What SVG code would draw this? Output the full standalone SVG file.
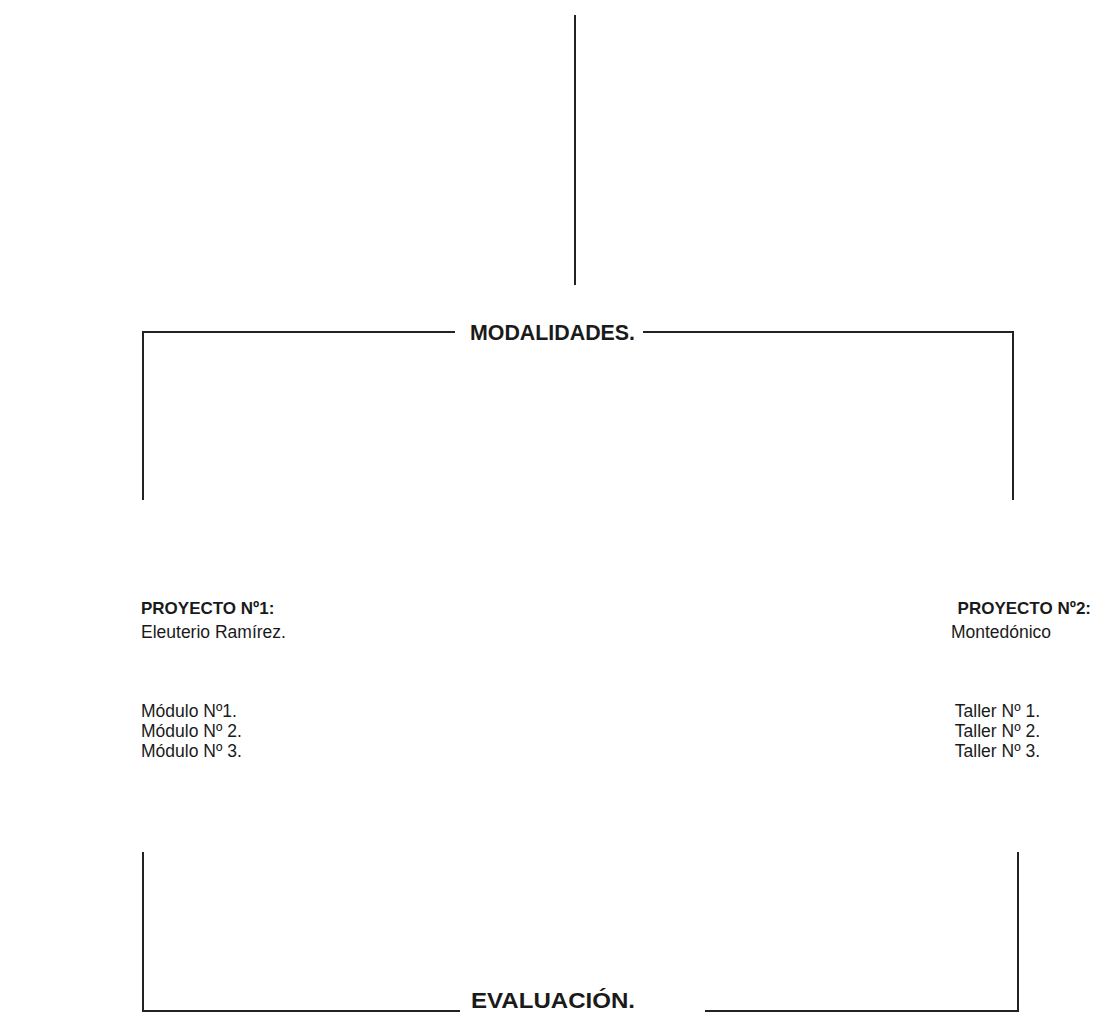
<svg xmlns="http://www.w3.org/2000/svg" width="1109" height="1016" viewBox="0 0 1109 1016">
<style>
.ln{fill:none;stroke:#222;stroke-width:2}
.hd{font-family:"Liberation Sans",Arial,sans-serif;font-weight:bold;font-size:22px;fill:#1a1a1a}
.b{font-family:"Liberation Sans",Arial,sans-serif;font-weight:bold;font-size:17px;fill:#1a1a1a}
.t{font-family:"Liberation Sans",Arial,sans-serif;font-size:17.5px;fill:#1a1a1a}
</style>
<rect width="1109" height="1016" fill="#fff"/>
<g id="connectors">
<path class="ln" d="M575,15 V285"/>
<path class="ln" d="M143,500 V332 H455"/>
<path class="ln" d="M643,332 H1013 V500"/>
<path class="ln" d="M143,852 V1011 H460"/>
<path class="ln" d="M705,1011 H1018 V852"/>
</g>
<g id="modalidades">
<text class="hd" x="470" y="340" textLength="165" lengthAdjust="spacingAndGlyphs">MODALIDADES.</text>
</g>
<g id="proyecto1">
<text class="b" x="141" y="614">PROYECTO Nº1:</text>
<text class="t" x="141" y="638">Eleuterio Ramírez.</text>
<text class="t" x="141" y="717">Módulo Nº1.</text>
<text class="t" x="141" y="737">Módulo Nº 2.</text>
<text class="t" x="141" y="757">Módulo Nº 3.</text>
</g>
<g id="proyecto2">
<text class="b" x="1091" y="614" text-anchor="end">PROYECTO Nº2:</text>
<text class="t" x="1001" y="638" text-anchor="middle">Montedónico</text>
<text class="t" x="1040" y="717" text-anchor="end">Taller Nº 1.</text>
<text class="t" x="1040" y="737" text-anchor="end">Taller Nº 2.</text>
<text class="t" x="1040" y="757" text-anchor="end">Taller Nº 3.</text>
</g>
<g id="evaluacion">
<text class="hd" x="471" y="1008" textLength="164" lengthAdjust="spacingAndGlyphs">EVALUACIÓN.</text>
</g>
</svg>
